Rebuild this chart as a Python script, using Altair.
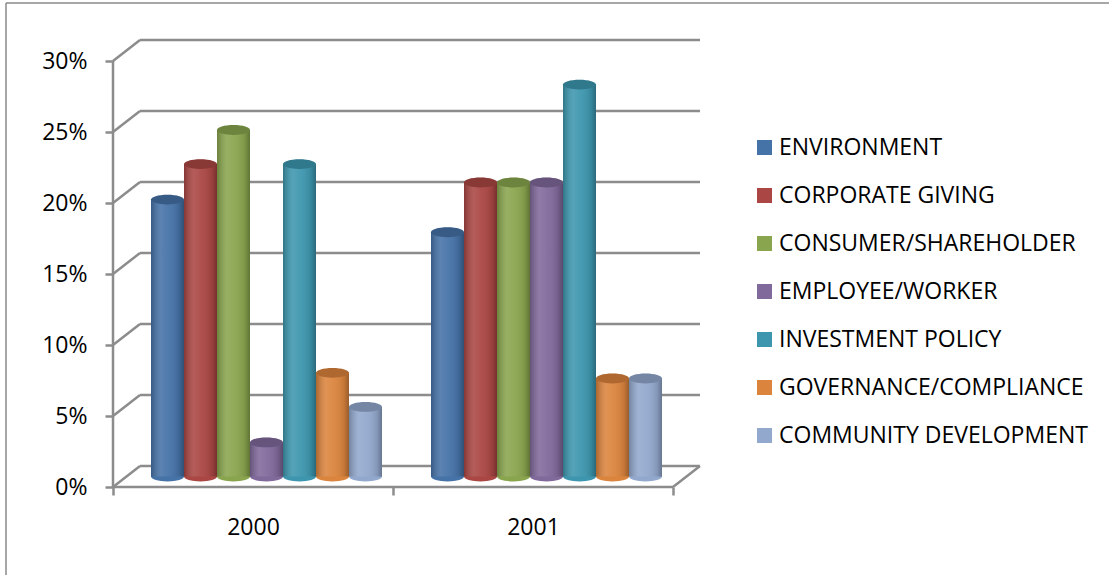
import altair as alt
import pandas as pd

# ---- data -------------------------------------------------------------
years = ["2000", "2001"]
categories = [
    "ENVIRONMENT",
    "CORPORATE GIVING",
    "CONSUMER/SHAREHOLDER",
    "EMPLOYEE/WORKER",
    "INVESTMENT POLICY",
    "GOVERNANCE/COMPLIANCE",
    "COMMUNITY DEVELOPMENT",
]
share_2000 = [19.5, 22.0, 24.4, 2.4, 22.0, 7.3, 4.9]   # percent
share_2001 = [17.2, 20.7, 20.7, 20.7, 27.6, 6.9, 6.9]  # percent
series_by_year = [share_2000, share_2001]
colors = ["#4572A7", "#AA4643", "#89A54E", "#80699B", "#3D96AE", "#DB843D", "#92A8CD"]
y_ticks = [0, 5, 10, 15, 20, 25, 30]  # percent

# ---- oblique projection (data units) ----------------------------------
BAND_PX = 280            # pixels per year band on the front plane
PX_PER_SHARE = 1420      # pixels per 1.0 share (100 %)
DEPTH_X = 27 / BAND_PX   # back wall shift to the right
DEPTH_Y = 21 / PX_PER_SHARE  # back wall shift upwards
X_MAX = len(years) + DEPTH_X
Y_MAX = max(y_ticks) / 100 + DEPTH_Y
WIDTH = round(X_MAX * BAND_PX)
HEIGHT = round(Y_MAX * PX_PER_SHARE)
BAR_W = 33 / BAND_PX
GROUP_PAD = (1 - BAR_W * len(categories)) / 2
CAP_SIZE = (BAR_W * BAND_PX) ** 2
ELLIPSE = "M -1 0 A 1 0.3 0 1 1 1 0 A 1 0.3 0 1 1 -1 0 Z"
GRID = "#8c8c8c"
FONT = "Open Sans"
FONT_SIZE = 23

# bars sit half way into the depth of the box
bar_rows = []
for c, values in enumerate(series_by_year):
    for i, (cat, v) in enumerate(zip(categories, values)):
        x0 = c + GROUP_PAD + i * BAR_W + DEPTH_X / 2
        bar_rows.append({
            "year": years[c],
            "category": cat,
            "share": v / 100,
            "x": x0,
            "x2": x0 + BAR_W,
            "xc": x0 + BAR_W / 2,
            "y": DEPTH_Y / 2,
            "y2": v / 100 + DEPTH_Y / 2,
        })
bars = pd.DataFrame(bar_rows)

# frame: front axis, floor, side wall and back wall gridlines
frame_rows = []
n = len(years)
top = max(y_ticks) / 100
frame_rows.append({"x": 0, "x2": 0, "y": 0, "y2": top})
frame_rows.append({"x": 0, "x2": n, "y": 0, "y2": 0})
frame_rows.append({"x": n, "x2": n + DEPTH_X, "y": 0, "y2": DEPTH_Y})
for t in y_ticks:
    v = t / 100
    frame_rows.append({"x": 0, "x2": DEPTH_X, "y": v, "y2": v + DEPTH_Y})
    frame_rows.append({"x": DEPTH_X, "x2": n + DEPTH_X, "y": v + DEPTH_Y, "y2": v + DEPTH_Y})
frame = pd.DataFrame(frame_rows)

xscale = alt.Scale(domain=[0, X_MAX], nice=False, zero=False)
yscale = alt.Scale(domain=[0, Y_MAX], nice=False, zero=False)
color = alt.Scale(domain=categories, range=colors)

label_expr = f"datum.value < {n} ? {years}[datum.value] : ''"

x_axis = alt.Axis(
    values=list(range(n + 1)), labelExpr=label_expr, labelOffset=BAND_PX / 2,
    title=None, domain=False, grid=False, tickSize=8, tickWidth=2.5,
    tickColor=GRID, labelFontSize=FONT_SIZE, labelFont=FONT, labelColor="#000000",
    labelPadding=21, labelFlush=False, labelOverlap=False)
y_axis = alt.Axis(
    values=[t / 100 for t in y_ticks], format=".0%", title=None,
    domain=False, grid=False, tickSize=8, tickWidth=2.5, tickColor=GRID,
    labelFontSize=FONT_SIZE, labelFont=FONT, labelColor="#000000",
    labelPadding=18, labelFlush=False, labelOverlap=False)
legend = alt.Legend(
    title=None, orient="none", legendX=640, legendY=96, direction="vertical",
    symbolType="square", symbolSize=225, symbolStrokeWidth=0, symbolOpacity=1,
    labelFont=FONT, labelFontSize=FONT_SIZE, labelColor="#000000", labelLimit=0,
    labelOffset=3, rowPadding=24, padding=0)

frame_layer = alt.Chart(frame).mark_rule(color=GRID, strokeWidth=2.5).encode(
    x=alt.X("x:Q", scale=xscale, axis=x_axis),
    x2="x2:Q",
    y=alt.Y("y:Q", scale=yscale, axis=y_axis),
    y2="y2:Q",
)

base = alt.Chart(bars)
color_enc = alt.Color("category:N", scale=color, sort=categories, legend=legend)

bottoms = base.mark_point(shape=ELLIPSE, size=CAP_SIZE, filled=True, opacity=1, strokeWidth=0).encode(
    x=alt.X("xc:Q", scale=xscale, axis=x_axis),
    y=alt.Y("y:Q", scale=yscale, axis=y_axis),
    color=color_enc,
)

columns = base.mark_bar(strokeWidth=0, opacity=1).encode(
    x=alt.X("x:Q", scale=xscale, axis=x_axis),
    x2="x2:Q",
    y=alt.Y("y:Q", scale=yscale, axis=y_axis),
    y2="y2:Q",
    color=color_enc,
    tooltip=["year:N", "category:N", alt.Tooltip("share:Q", format=".1%")],
)

# cylinder shading laid over every column
shade = alt.LinearGradient(
    gradient="linear", x1=0, x2=1, y1=0, y2=0,
    stops=[
        alt.GradientStop(offset=0, color="rgba(0,0,0,0.22)"),
        alt.GradientStop(offset=0.3, color="rgba(255,255,255,0.12)"),
        alt.GradientStop(offset=0.55, color="rgba(255,255,255,0.05)"),
        alt.GradientStop(offset=0.85, color="rgba(0,0,0,0.10)"),
        alt.GradientStop(offset=1, color="rgba(0,0,0,0.30)"),
    ],
)
shading = base.mark_bar(color=shade, strokeWidth=0).encode(
    x=alt.X("x:Q", scale=xscale, axis=x_axis),
    x2="x2:Q",
    y=alt.Y("y:Q", scale=yscale, axis=y_axis),
    y2="y2:Q",
)

caps = base.mark_point(shape=ELLIPSE, size=CAP_SIZE, filled=True, opacity=1, strokeWidth=0).encode(
    x=alt.X("xc:Q", scale=xscale, axis=x_axis),
    y=alt.Y("y2:Q", scale=yscale, axis=y_axis),
    color=color_enc,
)
cap_shade = base.mark_point(shape=ELLIPSE, size=CAP_SIZE, filled=True, opacity=0.2,
                            color="#000000", strokeWidth=0).encode(
    x=alt.X("xc:Q", scale=xscale, axis=x_axis),
    y=alt.Y("y2:Q", scale=yscale, axis=y_axis),
)

# outer border of the figure (left and top edges)
edge = pd.DataFrame({"k": [0]})
left_edge = alt.Chart(edge).mark_rule(color="#8a8a8a", strokeWidth=1.5).encode(
    x=alt.value(-107), y=alt.value(-37), y2=alt.value(HEIGHT + 88))
top_edge = alt.Chart(edge).mark_rule(color="#8a8a8a", strokeWidth=1.5).encode(
    x=alt.value(-107), x2=alt.value(WIDTH + 409), y=alt.value(-37))

chart = alt.layer(
    frame_layer, bottoms, columns, shading, caps, cap_shade, left_edge, top_edge
).properties(
    width=WIDTH, height=HEIGHT,
    autosize=alt.AutoSizeParams(type="none"),
    padding={"left": 113, "top": 40, "right": 1109 - 113 - WIDTH, "bottom": 575 - 40 - HEIGHT},
    background="white",
).configure(font=FONT).configure_view(stroke=None)

chart.save("out.html", embed_options={"renderer": "svg", "actions": False})
